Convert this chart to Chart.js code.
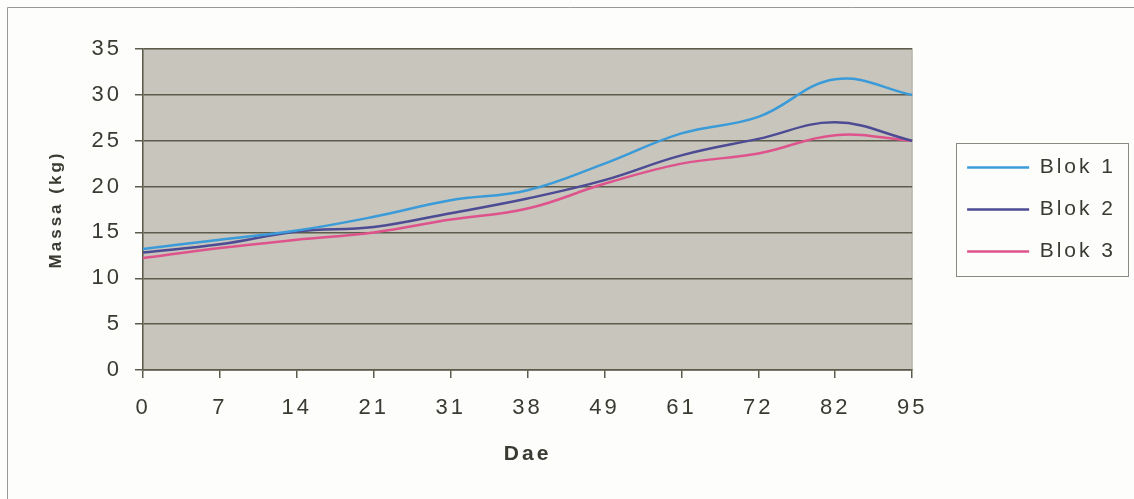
<!DOCTYPE html>
<html>
<head>
<meta charset="utf-8">
<script src="https://cdn.jsdelivr.net/npm/chart.js@4.4.0/dist/chart.umd.min.js"></script>
<style>
  html, body { margin: 0; padding: 0; background: #fdfdfb; }
  #wrap { width: 1134px; height: 499px; }
</style>
</head>
<body>
<div id="wrap"><canvas id="massChart" width="1134" height="499"></canvas></div>
<script>
// days after emergence (category axis)
const days = ['0', '7', '14', '21', '31', '38', '49', '61', '72', '82', '95'];

// mass (kg) per block
const blok1 = [13.2, 14.2, 15.2, 16.7, 18.5, 19.6, 22.5, 25.8, 27.6, 31.7, 30.0];
const blok2 = [12.8, 13.7, 15.1, 15.6, 17.1, 18.7, 20.7, 23.4, 25.2, 27.0, 25.0];
const blok3 = [12.2, 13.3, 14.2, 15.0, 16.4, 17.6, 20.3, 22.5, 23.6, 25.6, 25.0];

const seriesNames = ['Blok 1', 'Blok 2', 'Blok 3'];
const seriesColors = ['#3b9bd8', '#4c4b93', '#de538b'];

const textColor = '#3a3a32';
const gridColor = '#5d5c4c';
const fontFamily = 'Liberation Sans, Arial, sans-serif';

//the scanned original has wide letter spacing everywhere
const spacing = {
    id: 'spacing',
    beforeLayout(chart) { chart.ctx.letterSpacing = '3px'; },
    beforeDraw(chart) { chart.ctx.letterSpacing = '3px'; },
};

//page frame, grey plot area and legend box
const backdrop = {
    id: 'backdrop',
    beforeDraw(chart) {
        const {ctx, chartArea: a} = chart;
        ctx.save();
        ctx.fillStyle = '#fdfdfb';
        ctx.fillRect(0, 0, chart.width, chart.height);
        ctx.strokeStyle = '#9a9a94';
        ctx.lineWidth = 1;
        ctx.beginPath();
        ctx.moveTo(7.5, chart.height);
        ctx.lineTo(7.5, 7.5);
        ctx.lineTo(chart.width, 7.5);
        ctx.stroke();
        ctx.fillStyle = '#c7c5bc';
        ctx.fillRect(a.left, a.top, a.right - a.left, a.bottom - a.top);
        ctx.strokeStyle = '#a9a89e';
        ctx.strokeRect(a.left, a.top, a.right - a.left, a.bottom - a.top);
        ctx.restore();
    },
    afterDraw(chart) {
        const boxes = chart.legend.legendHitBoxes;
        if(!boxes || !boxes.length) { return; }
        const {ctx} = chart;
        const left = Math.min(...boxes.map(b => b.left)) - 11;
        const right = Math.max(...boxes.map(b => b.left + b.width)) + 12;
        const top = boxes[0].top - 14;
        const last = boxes[boxes.length - 1];
        const bottom = last.top + last.height + 14;
        ctx.save();
        ctx.strokeStyle = '#8a8a82';
        ctx.lineWidth = 1;
        ctx.strokeRect(Math.round(left) + 0.5, Math.round(top) + 0.5, Math.round(right - left), Math.round(bottom - top));
        ctx.restore();
    }
};

const datasets = [blok1, blok2, blok3].map((values, i) => ({
    label: seriesNames[i],
    data: values,
    borderColor: seriesColors[i],
    backgroundColor: seriesColors[i],
    borderWidth: 2.5,
    pointRadius: 0,
    tension: 0.4,
    fill: false,
}));

const config = {
    type: 'line',
    data: {
        labels: days,
        datasets: datasets,
    },
    options: {
        responsive: false,
        animation: false,
        layout: {
            padding: { left: 36, top: 49, right: 8, bottom: 30 }
        },
        plugins: {
            tooltip: { enabled: false },
            legend: {
                position: 'right',
                fullSize: false,
                labels: {
                    color: textColor,
                    font: { family: fontFamily, size: 21 },
                    usePointStyle: true,
                    pointStyle: 'line',
                    pointStyleWidth: 62,
                    boxHeight: 8,
                    padding: 21,
                }
            }
        },
        scales: {
            x: {
                grid: {
                    drawOnChartArea: false,
                    drawTicks: true,
                    tickLength: 8,
                    tickColor: gridColor,
                    lineWidth: 1.5,
                },
                border: { color: gridColor, width: 1.5 },
                ticks: {
                    color: textColor,
                    font: { family: fontFamily, size: 22 },
                    autoSkip: false,
                    maxRotation: 0,
                    padding: 17,
                },
                title: {
                    display: true,
                    text: 'Dae',
                    color: textColor,
                    font: { family: fontFamily, size: 21, weight: 'bold' },
                    padding: { top: 0, bottom: 2 },
                },
                afterFit: scale => { scale.height = 99; },
            },
            y: {
                min: 0,
                max: 35,
                ticks: {
                    stepSize: 5,
                    color: textColor,
                    font: { family: fontFamily, size: 22 },
                    padding: 13,
                },
                grid: {
                    color: gridColor,
                    lineWidth: 1.5,
                    tickLength: 8,
                    tickColor: gridColor,
                },
                border: { color: gridColor, width: 1.5 },
                title: {
                    display: true,
                    text: 'Massa (kg)',
                    color: textColor,
                    font: { family: fontFamily, size: 17, weight: 'bold' },
                    padding: { top: 10, bottom: 0 },
                },
                afterFit: scale => { scale.width = 143 - 36; },
            },
            //empty spacer between the plot and the legend
            gap: {
                position: 'right',
                display: true,
                grid: { display: false },
                border: { display: false },
                ticks: { display: false },
                afterFit: scale => { scale.width = 34; },
            }
        }
    },
    plugins: [spacing, backdrop],
};

const massChart = new Chart(document.getElementById('massChart'), config);
</script>
</body>
</html>
